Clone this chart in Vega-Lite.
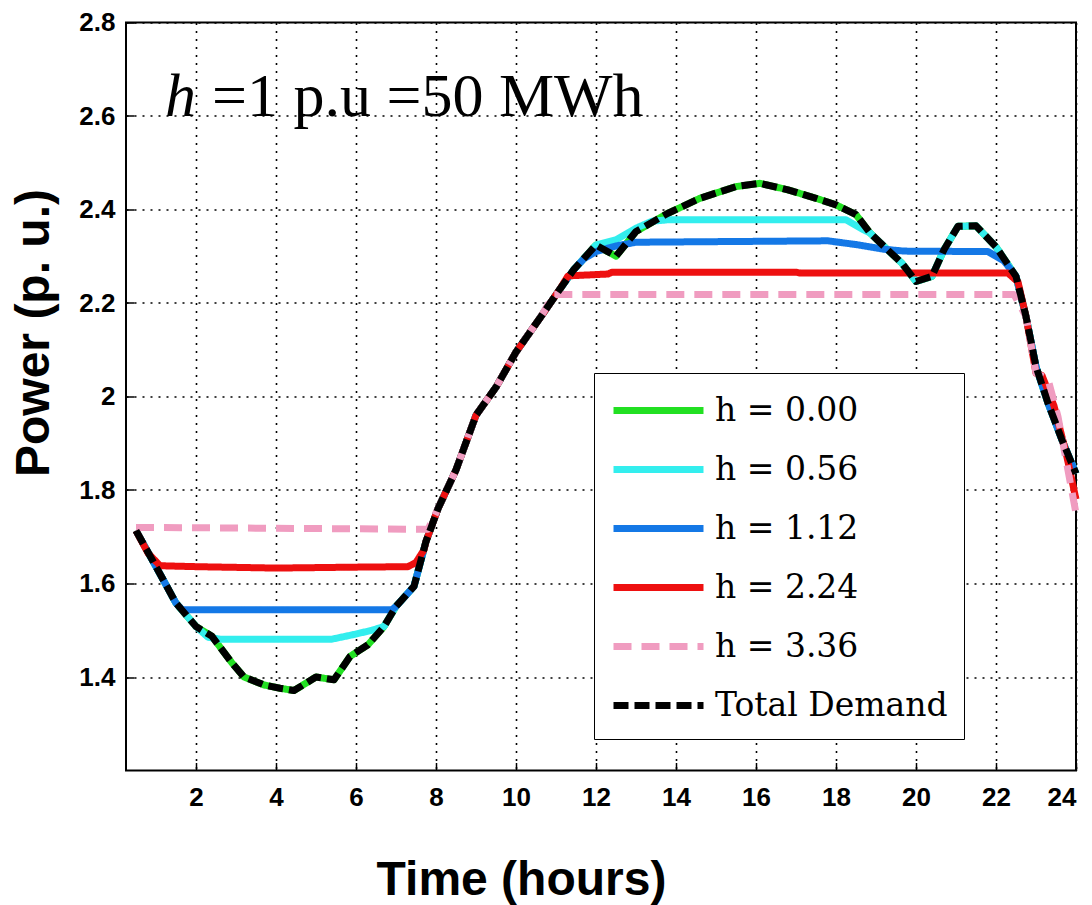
{
  "$schema": "https://vega.github.io/schema/vega-lite/v6.json",
  "width": 950,
  "height": 748,
  "autosize": {"type": "none"},
  "padding": {"left": 126, "top": 22.5, "right": 16, "bottom": 134.5},
  "background": "white",
  "config": {
    "view": {"stroke": "black", "strokeWidth": 2},
    "axis": {
      "grid": true,
      "gridColor": "black",
      "gridDash": [2, 6],
      "gridWidth": 1.6,
      "gridOpacity": 1,
      "domain": false,
      "tickColor": "black",
      "tickWidth": 1.5,
      "tickSize": -8,
      "labelFont": "Liberation Sans",
      "labelFontWeight": "bold",
      "labelFontSize": 26,
      "labelColor": "black",
      "titleFont": "Liberation Sans",
      "titleFontWeight": "bold",
      "titleColor": "black",
      "titleFontSize": 48
    },
    "legend": {
      "orient": "none",
      "legendX": 468,
      "legendY": 350.5,
      "fillColor": "white",
      "strokeColor": "black",
      "padding": 16,
      "symbolType": "M-1,0H4",
      "symbolSize": 1296,
      "symbolStrokeWidth": 7,
      "labelFont": "DejaVu Serif",
      "labelFontSize": 33,
      "labelColor": "black",
      "labelOffset": 62,
      "labelLimit": 400,
      "rowPadding": 20
    }
  },
  "layer": [
    {
      "data": {"values": [
        {"s": "h = 0.00", "t": 0.5, "p": 1.713}, {"s": "h = 0.00", "t": 1.0, "p": 1.636}, {"s": "h = 0.00", "t": 1.5, "p": 1.558}, {"s": "h = 0.00", "t": 2.0, "p": 1.508}, {"s": "h = 0.00", "t": 2.4, "p": 1.487}, {"s": "h = 0.00", "t": 2.9, "p": 1.43}, {"s": "h = 0.00", "t": 3.2, "p": 1.4}, {"s": "h = 0.00", "t": 3.7, "p": 1.383}, {"s": "h = 0.00", "t": 4.1, "p": 1.376}, {"s": "h = 0.00", "t": 4.45, "p": 1.371}, {"s": "h = 0.00", "t": 5.0, "p": 1.4}, {"s": "h = 0.00", "t": 5.45, "p": 1.394}, {"s": "h = 0.00", "t": 5.85, "p": 1.444}, {"s": "h = 0.00", "t": 6.3, "p": 1.469}, {"s": "h = 0.00", "t": 6.7, "p": 1.508}, {"s": "h = 0.00", "t": 7.0, "p": 1.551}, {"s": "h = 0.00", "t": 7.45, "p": 1.594}, {"s": "h = 0.00", "t": 7.75, "p": 1.69}, {"s": "h = 0.00", "t": 8.05, "p": 1.76}, {"s": "h = 0.00", "t": 8.5, "p": 1.843}, {"s": "h = 0.00", "t": 9.0, "p": 1.96}, {"s": "h = 0.00", "t": 9.5, "p": 2.02}, {"s": "h = 0.00", "t": 10.0, "p": 2.095}, {"s": "h = 0.00", "t": 10.6, "p": 2.168}, {"s": "h = 0.00", "t": 11.1, "p": 2.23}, {"s": "h = 0.00", "t": 11.45, "p": 2.272}, {"s": "h = 0.00", "t": 12.0, "p": 2.324}, {"s": "h = 0.00", "t": 12.5, "p": 2.3}, {"s": "h = 0.00", "t": 13.0, "p": 2.353}, {"s": "h = 0.00", "t": 13.8, "p": 2.392}, {"s": "h = 0.00", "t": 14.6, "p": 2.424}, {"s": "h = 0.00", "t": 15.5, "p": 2.449}, {"s": "h = 0.00", "t": 16.1, "p": 2.456}, {"s": "h = 0.00", "t": 16.8, "p": 2.442}, {"s": "h = 0.00", "t": 17.5, "p": 2.424}, {"s": "h = 0.00", "t": 18.0, "p": 2.41}, {"s": "h = 0.00", "t": 18.5, "p": 2.389}, {"s": "h = 0.00", "t": 18.85, "p": 2.35}, {"s": "h = 0.00", "t": 19.25, "p": 2.317}, {"s": "h = 0.00", "t": 19.65, "p": 2.285}, {"s": "h = 0.00", "t": 20.0, "p": 2.246}, {"s": "h = 0.00", "t": 20.4, "p": 2.257}, {"s": "h = 0.00", "t": 20.7, "p": 2.314}, {"s": "h = 0.00", "t": 21.05, "p": 2.364}, {"s": "h = 0.00", "t": 21.5, "p": 2.365}, {"s": "h = 0.00", "t": 22.0, "p": 2.32}, {"s": "h = 0.00", "t": 22.5, "p": 2.257}, {"s": "h = 0.00", "t": 22.75, "p": 2.171}, {"s": "h = 0.00", "t": 23.0, "p": 2.064}, {"s": "h = 0.00", "t": 23.3, "p": 1.986}, {"s": "h = 0.00", "t": 23.65, "p": 1.907}, {"s": "h = 0.00", "t": 24.0, "p": 1.835},

        {"s": "h = 0.56", "t": 0.5, "p": 1.713}, {"s": "h = 0.56", "t": 1.0, "p": 1.636}, {"s": "h = 0.56", "t": 1.5, "p": 1.558}, {"s": "h = 0.56", "t": 2.0, "p": 1.508}, {"s": "h = 0.56", "t": 2.3, "p": 1.485}, {"s": "h = 0.56", "t": 2.6, "p": 1.481}, {"s": "h = 0.56", "t": 5.4, "p": 1.481}, {"s": "h = 0.56", "t": 5.9, "p": 1.49}, {"s": "h = 0.56", "t": 6.4, "p": 1.5}, {"s": "h = 0.56", "t": 6.7, "p": 1.508}, {"s": "h = 0.56", "t": 7.0, "p": 1.551}, {"s": "h = 0.56", "t": 7.45, "p": 1.594}, {"s": "h = 0.56", "t": 7.75, "p": 1.69}, {"s": "h = 0.56", "t": 8.05, "p": 1.76}, {"s": "h = 0.56", "t": 8.5, "p": 1.843}, {"s": "h = 0.56", "t": 9.0, "p": 1.96}, {"s": "h = 0.56", "t": 9.5, "p": 2.02}, {"s": "h = 0.56", "t": 10.0, "p": 2.095}, {"s": "h = 0.56", "t": 10.6, "p": 2.168}, {"s": "h = 0.56", "t": 11.1, "p": 2.23}, {"s": "h = 0.56", "t": 11.45, "p": 2.272}, {"s": "h = 0.56", "t": 12.0, "p": 2.324}, {"s": "h = 0.56", "t": 12.5, "p": 2.335}, {"s": "h = 0.56", "t": 13.0, "p": 2.36}, {"s": "h = 0.56", "t": 13.4, "p": 2.375}, {"s": "h = 0.56", "t": 13.8, "p": 2.378}, {"s": "h = 0.56", "t": 18.25, "p": 2.378}, {"s": "h = 0.56", "t": 18.7, "p": 2.356}, {"s": "h = 0.56", "t": 18.85, "p": 2.35}, {"s": "h = 0.56", "t": 19.25, "p": 2.317}, {"s": "h = 0.56", "t": 19.65, "p": 2.285}, {"s": "h = 0.56", "t": 20.0, "p": 2.246}, {"s": "h = 0.56", "t": 20.4, "p": 2.257}, {"s": "h = 0.56", "t": 20.7, "p": 2.314}, {"s": "h = 0.56", "t": 21.05, "p": 2.364}, {"s": "h = 0.56", "t": 21.5, "p": 2.365}, {"s": "h = 0.56", "t": 22.0, "p": 2.32}, {"s": "h = 0.56", "t": 22.5, "p": 2.257}, {"s": "h = 0.56", "t": 22.75, "p": 2.171}, {"s": "h = 0.56", "t": 23.0, "p": 2.064}, {"s": "h = 0.56", "t": 23.3, "p": 1.986}, {"s": "h = 0.56", "t": 23.65, "p": 1.907}, {"s": "h = 0.56", "t": 24.0, "p": 1.835},

        {"s": "h = 1.12", "t": 0.5, "p": 1.713}, {"s": "h = 1.12", "t": 1.0, "p": 1.636}, {"s": "h = 1.12", "t": 1.5, "p": 1.558}, {"s": "h = 1.12", "t": 1.65, "p": 1.544}, {"s": "h = 1.12", "t": 6.9, "p": 1.544}, {"s": "h = 1.12", "t": 7.0, "p": 1.551}, {"s": "h = 1.12", "t": 7.45, "p": 1.594}, {"s": "h = 1.12", "t": 7.75, "p": 1.69}, {"s": "h = 1.12", "t": 8.05, "p": 1.76}, {"s": "h = 1.12", "t": 8.5, "p": 1.843}, {"s": "h = 1.12", "t": 9.0, "p": 1.96}, {"s": "h = 1.12", "t": 9.5, "p": 2.02}, {"s": "h = 1.12", "t": 10.0, "p": 2.095}, {"s": "h = 1.12", "t": 10.6, "p": 2.168}, {"s": "h = 1.12", "t": 11.1, "p": 2.23}, {"s": "h = 1.12", "t": 11.45, "p": 2.272}, {"s": "h = 1.12", "t": 11.7, "p": 2.295}, {"s": "h = 1.12", "t": 12.0, "p": 2.31}, {"s": "h = 1.12", "t": 12.5, "p": 2.322}, {"s": "h = 1.12", "t": 13.0, "p": 2.33}, {"s": "h = 1.12", "t": 17.8, "p": 2.333}, {"s": "h = 1.12", "t": 18.5, "p": 2.325}, {"s": "h = 1.12", "t": 19.2, "p": 2.315}, {"s": "h = 1.12", "t": 19.7, "p": 2.311}, {"s": "h = 1.12", "t": 21.8, "p": 2.31}, {"s": "h = 1.12", "t": 22.0, "p": 2.3}, {"s": "h = 1.12", "t": 22.2, "p": 2.29}, {"s": "h = 1.12", "t": 22.5, "p": 2.257}, {"s": "h = 1.12", "t": 22.75, "p": 2.171}, {"s": "h = 1.12", "t": 23.0, "p": 2.064}, {"s": "h = 1.12", "t": 23.3, "p": 1.986}, {"s": "h = 1.12", "t": 23.65, "p": 1.907}, {"s": "h = 1.12", "t": 24.0, "p": 1.835},

        {"s": "h = 2.24", "t": 0.5, "p": 1.713}, {"s": "h = 2.24", "t": 0.8, "p": 1.665}, {"s": "h = 2.24", "t": 1.1, "p": 1.638}, {"s": "h = 2.24", "t": 2.0, "p": 1.636}, {"s": "h = 2.24", "t": 4.0, "p": 1.633}, {"s": "h = 2.24", "t": 6.0, "p": 1.635}, {"s": "h = 2.24", "t": 7.3, "p": 1.636}, {"s": "h = 2.24", "t": 7.5, "p": 1.645}, {"s": "h = 2.24", "t": 7.7, "p": 1.672}, {"s": "h = 2.24", "t": 7.75, "p": 1.69}, {"s": "h = 2.24", "t": 8.05, "p": 1.76}, {"s": "h = 2.24", "t": 8.5, "p": 1.843}, {"s": "h = 2.24", "t": 9.0, "p": 1.96}, {"s": "h = 2.24", "t": 9.5, "p": 2.02}, {"s": "h = 2.24", "t": 10.0, "p": 2.095}, {"s": "h = 2.24", "t": 10.6, "p": 2.168}, {"s": "h = 2.24", "t": 11.1, "p": 2.23}, {"s": "h = 2.24", "t": 11.3, "p": 2.258}, {"s": "h = 2.24", "t": 12.3, "p": 2.262}, {"s": "h = 2.24", "t": 12.4, "p": 2.266}, {"s": "h = 2.24", "t": 17.0, "p": 2.266}, {"s": "h = 2.24", "t": 17.1, "p": 2.264}, {"s": "h = 2.24", "t": 22.3, "p": 2.264}, {"s": "h = 2.24", "t": 22.55, "p": 2.245}, {"s": "h = 2.24", "t": 22.75, "p": 2.171}, {"s": "h = 2.24", "t": 23.0, "p": 2.05}, {"s": "h = 2.24", "t": 23.15, "p": 2.045}, {"s": "h = 2.24", "t": 23.45, "p": 1.98}, {"s": "h = 2.24", "t": 23.75, "p": 1.88}, {"s": "h = 2.24", "t": 24.0, "p": 1.78},

        {"s": "h = 3.36", "t": 0.5, "p": 1.72}, {"s": "h = 3.36", "t": 7.8, "p": 1.716}, {"s": "h = 3.36", "t": 8.05, "p": 1.76}, {"s": "h = 3.36", "t": 8.5, "p": 1.843}, {"s": "h = 3.36", "t": 9.0, "p": 1.96}, {"s": "h = 3.36", "t": 9.5, "p": 2.02}, {"s": "h = 3.36", "t": 10.0, "p": 2.095}, {"s": "h = 3.36", "t": 10.6, "p": 2.168}, {"s": "h = 3.36", "t": 10.95, "p": 2.218}, {"s": "h = 3.36", "t": 22.45, "p": 2.218}, {"s": "h = 3.36", "t": 22.75, "p": 2.171}, {"s": "h = 3.36", "t": 23.0, "p": 2.05}, {"s": "h = 3.36", "t": 23.3, "p": 2.037}, {"s": "h = 3.36", "t": 23.55, "p": 1.957}, {"s": "h = 3.36", "t": 24.0, "p": 1.75},

        {"s": "Total Demand", "t": 0.5, "p": 1.713}, {"s": "Total Demand", "t": 1.0, "p": 1.636}, {"s": "Total Demand", "t": 1.5, "p": 1.558}, {"s": "Total Demand", "t": 2.0, "p": 1.508}, {"s": "Total Demand", "t": 2.4, "p": 1.487}, {"s": "Total Demand", "t": 2.9, "p": 1.43}, {"s": "Total Demand", "t": 3.2, "p": 1.4}, {"s": "Total Demand", "t": 3.7, "p": 1.383}, {"s": "Total Demand", "t": 4.1, "p": 1.376}, {"s": "Total Demand", "t": 4.45, "p": 1.371}, {"s": "Total Demand", "t": 5.0, "p": 1.4}, {"s": "Total Demand", "t": 5.45, "p": 1.394}, {"s": "Total Demand", "t": 5.85, "p": 1.444}, {"s": "Total Demand", "t": 6.3, "p": 1.469}, {"s": "Total Demand", "t": 6.7, "p": 1.508}, {"s": "Total Demand", "t": 7.0, "p": 1.551}, {"s": "Total Demand", "t": 7.45, "p": 1.594}, {"s": "Total Demand", "t": 7.75, "p": 1.69}, {"s": "Total Demand", "t": 8.05, "p": 1.76}, {"s": "Total Demand", "t": 8.5, "p": 1.843}, {"s": "Total Demand", "t": 9.0, "p": 1.96}, {"s": "Total Demand", "t": 9.5, "p": 2.02}, {"s": "Total Demand", "t": 10.0, "p": 2.095}, {"s": "Total Demand", "t": 10.6, "p": 2.168}, {"s": "Total Demand", "t": 11.1, "p": 2.23}, {"s": "Total Demand", "t": 11.45, "p": 2.272}, {"s": "Total Demand", "t": 12.0, "p": 2.324}, {"s": "Total Demand", "t": 12.5, "p": 2.3}, {"s": "Total Demand", "t": 13.0, "p": 2.353}, {"s": "Total Demand", "t": 13.8, "p": 2.392}, {"s": "Total Demand", "t": 14.6, "p": 2.424}, {"s": "Total Demand", "t": 15.5, "p": 2.449}, {"s": "Total Demand", "t": 16.1, "p": 2.456}, {"s": "Total Demand", "t": 16.8, "p": 2.442}, {"s": "Total Demand", "t": 17.5, "p": 2.424}, {"s": "Total Demand", "t": 18.0, "p": 2.41}, {"s": "Total Demand", "t": 18.5, "p": 2.389}, {"s": "Total Demand", "t": 18.85, "p": 2.35}, {"s": "Total Demand", "t": 19.25, "p": 2.317}, {"s": "Total Demand", "t": 19.65, "p": 2.285}, {"s": "Total Demand", "t": 20.0, "p": 2.246}, {"s": "Total Demand", "t": 20.4, "p": 2.257}, {"s": "Total Demand", "t": 20.7, "p": 2.314}, {"s": "Total Demand", "t": 21.05, "p": 2.364}, {"s": "Total Demand", "t": 21.5, "p": 2.365}, {"s": "Total Demand", "t": 22.0, "p": 2.32}, {"s": "Total Demand", "t": 22.5, "p": 2.257}, {"s": "Total Demand", "t": 22.75, "p": 2.171}, {"s": "Total Demand", "t": 23.0, "p": 2.064}, {"s": "Total Demand", "t": 23.3, "p": 1.986}, {"s": "Total Demand", "t": 23.65, "p": 1.907}, {"s": "Total Demand", "t": 24.0, "p": 1.835}
      ]},
      "mark": {"type": "line", "strokeCap": "butt", "strokeJoin": "round"},
      "encoding": {
        "x": {
          "field": "t", "type": "quantitative",
          "scale": {"domain": [0.25, 24], "nice": false, "zero": false},
          "axis": {
            "title": "Time (hours)",
            "values": [2, 4, 6, 8, 10, 12, 14, 16, 18, 20, 22, 24],
            "labelPadding": 22,
            "titleX": 395,
            "titleY": 124,
            "titleAlign": "center",
            "titleBaseline": "alphabetic",
            "titleAngle": 0
          }
        },
        "y": {
          "field": "p", "type": "quantitative",
          "scale": {"domain": [1.2, 2.8], "nice": false, "zero": false},
          "axis": {
            "title": "Power  (p. u.)",
            "values": [1.4, 1.6, 1.8, 2.0, 2.2, 2.4, 2.6, 2.8],
            "format": ".1~f",
            "labelPadding": 19,
            "titleX": -92,
            "titleY": 310,
            "titleAngle": -90,
            "titleAlign": "center",
            "titleBaseline": "middle"
          }
        },
        "color": {
          "field": "s", "type": "nominal",
          "scale": {
            "domain": ["h = 0.00", "h = 0.56", "h = 1.12", "h = 2.24", "h = 3.36", "Total Demand"],
            "range": ["#22e022", "#33eeee", "#1478e6", "#ee1010", "#f09cc0", "#000000"]
          },
          "legend": {"title": null}
        },
        "strokeDash": {
          "field": "s", "type": "nominal",
          "scale": {
            "domain": ["h = 0.00", "h = 0.56", "h = 1.12", "h = 2.24", "h = 3.36", "Total Demand"],
            "range": [[1, 0], [1, 0], [1, 0], [1, 0], [18, 10], [15, 6]]
          },
          "legend": {"title": null}
        },
        "strokeWidth": {
          "field": "s", "type": "nominal",
          "scale": {
            "domain": ["h = 0.00", "h = 0.56", "h = 1.12", "h = 2.24", "h = 3.36", "Total Demand"],
            "range": [7, 7, 7, 7, 8, 8]
          },
          "legend": null
        }
      }
    },
    {
      "data": {"values": [{"t": 1.225, "p": 2.601, "label": "h"}]},
      "mark": {"type": "text", "font": "Liberation Serif", "fontStyle": "italic", "fontSize": 62, "align": "left", "baseline": "alphabetic", "color": "black"},
      "encoding": {
        "x": {"field": "t", "type": "quantitative"},
        "y": {"field": "p", "type": "quantitative"},
        "text": {"field": "label"}
      }
    },
    {
      "data": {"values": [{"t": 2.4, "p": 2.601, "label": "=1 p.u =50 MWh"}]},
      "mark": {"type": "text", "font": "Liberation Serif", "fontSize": 62, "align": "left", "baseline": "alphabetic", "color": "black"},
      "encoding": {
        "x": {"field": "t", "type": "quantitative"},
        "y": {"field": "p", "type": "quantitative"},
        "text": {"field": "label"}
      }
    }
  ]
}
